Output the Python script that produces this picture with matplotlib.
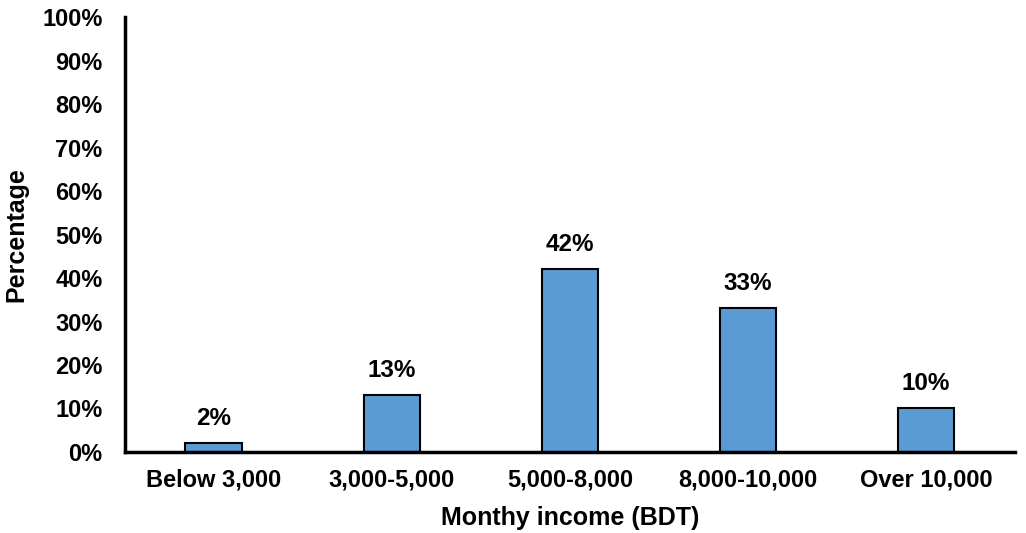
import matplotlib.pyplot as plt
import numpy as np

plt.rcParams['font.family'] = ['Liberation Sans', 'DejaVu Sans']
plt.rcParams['font.weight'] = 'bold'

categories = ["Below 3,000", "3,000-5,000", "5,000-8,000", "8,000-10,000", "Over 10,000"]
percent = [2, 13, 42, 33, 10]

fig = plt.figure(figsize=(10.26, 5.33), dpi=100)
ax = fig.add_axes([0.1218, 0.152, 0.8675, 0.816])

x = np.arange(len(categories))
bars = ax.bar(x, percent, width=0.32, color="#5B9BD5", edgecolor="black", linewidth=1.5)

for b, v in zip(bars, percent):
    ax.annotate("{}%".format(v), (b.get_x() + b.get_width() / 2, v),
                xytext=(0, 18), textcoords="offset points",
                ha="center", va="center", fontsize=17.5, fontweight="bold")

ax.set_xlim(-0.5, len(categories) - 0.5)
ax.set_ylim(0, 100)
ax.set_yticks(np.arange(0, 101, 10))
ax.set_yticklabels(["{}%".format(t) for t in range(0, 101, 10)])
ax.set_xticks(x)
ax.set_xticklabels(categories)
ax.tick_params(length=0, labelsize=17)
ax.tick_params(axis="x", pad=12)
ax.tick_params(axis="y", pad=16)

for s in ["top", "right"]:
    ax.spines[s].set_visible(False)
for s in ["left", "bottom"]:
    ax.spines[s].set_linewidth(2.5)

ax.set_xlabel("Monthy income (BDT)", fontsize=18, fontweight="bold", labelpad=10)
ax.set_ylabel("Percentage", fontsize=18, fontweight="bold", labelpad=10)

fig.savefig("out.png", dpi=100)
